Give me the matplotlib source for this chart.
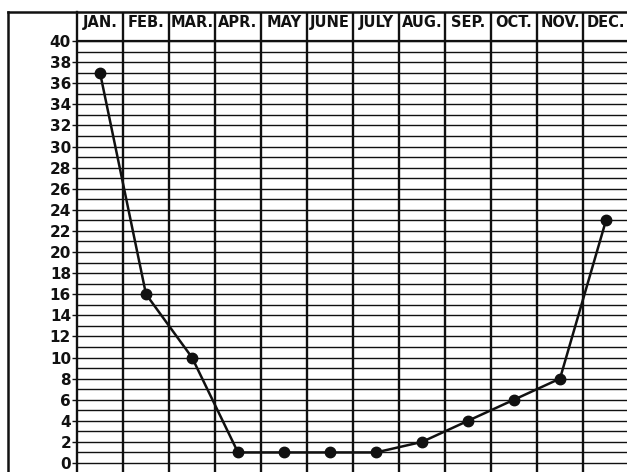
import numpy as np
import matplotlib.pyplot as plt
from matplotlib.lines import Line2D

# Monthly values
months = ["JAN.", "FEB.", "MAR.", "APR.", "MAY", "JUNE",
          "JULY", "AUG.", "SEP.", "OCT.", "NOV.", "DEC."]
values = [37, 16, 10, 1, 1, 1, 1, 2, 4, 6, 8, 23]
y_ticks = list(range(0, 41, 2))

W, H = 627, 472
fig = plt.figure(figsize=(W / 100, H / 100), dpi=100)

# pixel geometry of the grid
left_px, top_px = 77, 12
col_px = 46.0
zero_px, forty_px = 463, 41
unit_px = (zero_px - forty_px) / 40.0

ax = fig.add_axes([left_px / W, 0, (W - left_px) / W, 1 - top_px / H])
ax.set_xlim(0, (W - left_px) / col_px)
ax.set_ylim(-(H - zero_px) / unit_px, 40 + (forty_px - top_px) / unit_px)

ink = "#111111"

# horizontal rulings, one per unit
for v in range(0, 41):
    ax.axhline(v, color=ink, lw=1.0, zorder=1)
# line under the month header
ax.axhline(40, color=ink, lw=1.6, zorder=1)

# column separators
for i in range(1, len(months)):
    ax.axvline(i, color=ink, lw=1.7, zorder=1)

# month labels in the header
header_y = 40 + (forty_px - 22) / unit_px
for i, m in enumerate(months):
    ax.text(i + 0.5, header_y, m, ha="center", va="center",
            fontsize=10.5, fontweight="bold", color=ink)

# data line
x = np.arange(len(months)) + 0.5
ax.plot(x, values, color=ink, lw=1.8, marker="o", markersize=7.5, zorder=3)

ax.set_xticks([])
ax.set_yticks(y_ticks)
ax.set_yticklabels([str(t) for t in y_ticks], fontsize=11, fontweight="bold", color=ink)
ax.tick_params(axis="y", length=3.5, width=1.0, pad=0.8, color=ink)
for s in ["top", "right", "bottom"]:
    ax.spines[s].set_visible(False)
ax.spines["left"].set_linewidth(1.7)
ax.spines["left"].set_color(ink)

# outer frame of the printed chart
fig.add_artist(Line2D([8 / W, 8 / W], [0, 1 - top_px / H], color=ink, lw=1.8,
                      transform=fig.transFigure))
fig.add_artist(Line2D([8 / W, 1], [1 - top_px / H, 1 - top_px / H], color=ink, lw=1.8,
                      transform=fig.transFigure))

fig.savefig("out.png", dpi=100)
